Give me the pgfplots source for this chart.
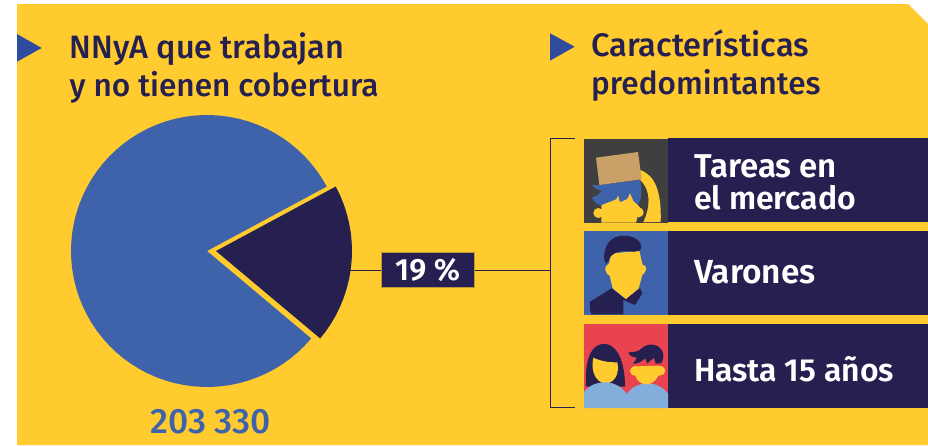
\documentclass[border=0pt]{standalone}
\usepackage{pgfplots}
\pgfplotsset{compat=1.18}
\usepackage{fontspec}
\setmainfont{Fira Sans}[BoldFont={Fira Sans Medium}]
\newfontfamily\semi{Fira Sans SemiBold}
\definecolor{bgy}{HTML}{FFCB2E}
\definecolor{navy}{HTML}{262050}
\definecolor{pieblue}{HTML}{3E63AB}
\definecolor{triblue}{HTML}{2F4B9E}
\definecolor{tile}{HTML}{3F3F3F}
\definecolor{boxc}{HTML}{C8A068}
\definecolor{redt}{HTML}{EA4350}
\definecolor{lblue}{HTML}{83AEDC}
\newcommand{\fs}[1]{\fontsize{#1}{#1}\selectfont\bfseries}
\newcommand{\fw}[1]{\fontsize{#1}{#1}\semi}
\pgfplotsset{page/.style={hide axis,scale only axis,width=928pt,height=445pt,at={(0,0)},anchor=south west,clip=false}}
\begin{document}
\begin{tikzpicture}
\begin{axis}[page,xmin=0,xmax=928,ymin=0,ymax=445,y dir=reverse]
\path (0,0) rectangle (928,445);
\fill[bgy] (17,4) -- (908,4) -- (928,24) -- (928,445) -- (17,445) -- cycle;
\fill[triblue] (17,34) -- (41.7,48) -- (17,61.7) -- cycle;
\fill[triblue] (550,33.3) -- (574.7,46.7) -- (550,60.7) -- cycle;
\node[anchor=base west,inner sep=0,text=navy] at (69.5,58.5) {\fs{32.4}NNyA que trabajan};
\node[anchor=base west,inner sep=0,text=navy] at (69.5,96) {\fs{31.6}y no tienen cobertura};
\node[anchor=base west,inner sep=0,text=navy] at (591,56) {\fs{32.6}Características};
\node[anchor=base west,inner sep=0,text=navy] at (591,94.5) {\fs{31.5}predomintantes};
\node[anchor=base west,inner sep=0,text=pieblue] at (150,433.5) {\fs{35.3}203 330};
% connectors
\draw[navy,line width=1pt] (340,270) -- (550.5,270);
\draw[navy,line width=1pt] (575,138.5) -- (550.5,138.5) -- (550.5,407.5) -- (575,407.5);
\fill[navy,draw=bgy!70!navy,line width=0.3pt] (381,252.3) rectangle (474,286.7);
\node[anchor=base west,inner sep=0,text=white] at (395,280.7) {\fw{30.8}19 \%};
% panels
\fill[navy] (668,138) rectangle (928,222);
\fill[navy] (668,231) rectangle (928,315);
\fill[navy] (668,324) rectangle (928,408);
\node[anchor=base west,inner sep=0,text=white] at (694,177) {\fw{33}Tareas en};
\node[anchor=base west,inner sep=0,text=white] at (694,209) {\fw{32}el mercado};
\node[anchor=base west,inner sep=0,text=white] at (694,283) {\fw{33.4}Varones};
\node[anchor=base west,inner sep=0,text=white] at (694,381) {\fw{31.9}Hasta 15 años};
\end{axis}
\begin{axis}[page,xmin=-207,xmax=721,ymin=-194,ymax=251]
% share of NNyA: 81 % blue, 19 % navy (angle, radius)
\addplot[draw=none,fill=pieblue,data cs=polar] coordinates {(0,0) (28.3,136) (32,136) (36,136) (40,136) (44,136) (48,136) (52,136) (56,136) (60,136) (64,136) (68,136) (72,136) (76,136) (80,136) (84,136) (88,136) (92,136) (96,136) (100,136) (104,136) (108,136) (112,136) (116,136) (120,136) (124,136) (128,136) (132,136) (136,136) (140,136) (144,136) (148,136) (152,136) (156,136) (160,136) (164,136) (168,136) (172,136) (176,136) (180,136) (184,136) (188,136) (192,136) (196,136) (200,136) (204,136) (208,136) (212,136) (216,136) (220,136) (224,136) (228,136) (232,136) (236,136) (240,136) (244,136) (248,136) (252,136) (256,136) (260,136) (264,136) (268,136) (272,136) (276,136) (280,136) (284,136) (288,136) (292,136) (296,136) (300,136) (304,136) (308,136) (312,136) (316,136) (320,136)} -- cycle;
\addplot[draw=none,fill=navy,data cs=polar,xshift=9pt] coordinates {(0,0) (-40,136) (-36,136) (-32,136) (-28,136) (-24,136) (-20,136) (-16,136) (-12,136) (-8,136) (-4,136) (0,136) (4,136) (8,136) (12,136) (16,136) (20,136) (24,136) (28.3,136)} -- cycle;
\end{axis}
\begin{axis}[page,xmin=-1620,xmax=1164,ymin=-375,ymax=960,y dir=reverse]
% icon 1
\fill[tile] (132,42) rectangle (384,293);
\fill[bgy] (300,135) .. controls (345,150) and (365,200) .. (362,291) -- (310,291) .. controls (330,250) and (335,195) .. (300,165) -- cycle;
\fill[pieblue] (158,180) -- (178,180) -- (300,165) .. controls (305,180) and (305,205) .. (302,224) -- (290,245) -- (190,245) -- (178,240) .. controls (165,235) and (160,225) .. (155,217) .. controls (170,215) and (180,205) .. (185,197) .. controls (170,195) and (160,188) .. (158,180) -- cycle;
\fill[boxc] (168,98) -- (294,81) -- (305,163) -- (178,180) -- cycle;
\fill[bgy] (175,264) circle[radius=15] (296,262) circle[radius=15];
\fill[bgy] (184,293) -- (184,241) .. controls (195,235) and (215,230) .. (230,222) -- (234,211) -- (240,232) -- (262,222) -- (270,205) -- (280,228) -- (300,247) -- (288,293) -- cycle;
% icon 2
\fill[pieblue] (132,318) rectangle (384,570);
\fill[navy] (150,530) -- (215,490) -- (255,522) -- (300,490) -- (307,505) -- (285,540) -- (250,525) -- (250,568) -- (155,568) -- (150,555) -- cycle;
\fill[bgy] (197,425) -- (207,415) -- (215,385) -- (298,378) -- (308,420) .. controls (322,418) and (322,440) .. (307,450) -- (296,490) -- (258,522) -- (218,490) -- (209,452) .. controls (195,445) and (195,432) .. (197,425) -- cycle;
\fill[navy] (198,417) .. controls (185,395) and (195,350) .. (225,337) .. controls (255,325) and (300,335) .. (304,365) .. controls (303,380) and (295,378) .. (280,380) .. controls (250,375) and (225,380) .. (210,395) .. controls (207,405) and (203,412) .. (198,417) -- cycle;
% icon 3
\fill[redt] (132,597) rectangle (384,849);
\fill[navy] (138,785) .. controls (135,720) and (145,665) .. (185,657) .. controls (225,650) and (255,700) .. (255,785) -- cycle;
\fill[bgy] (160,698) .. controls (185,710) and (210,712) .. (232,712) .. controls (240,750) and (220,775) .. (197,775) .. controls (170,775) and (150,740) .. (160,698) -- cycle;
\fill[lblue] (132,849) -- (132,800) .. controls (150,780) and (170,772) .. (196,772) .. controls (225,772) and (250,790) .. (260,807) .. controls (270,790) and (295,775) .. (322,775) .. controls (350,775) and (372,790) .. (384,805) -- (384,849) -- cycle;
\fill[bgy] (270,737) .. controls (272,725) and (285,722) .. (290,724) -- (355,722) .. controls (370,722) and (378,732) .. (374,742) .. controls (372,750) and (360,752) .. (355,752) .. controls (345,772) and (330,778) .. (320,778) .. controls (305,778) and (292,770) .. (286,752) .. controls (275,752) and (270,745) .. (270,737) -- cycle;
\fill[navy] (265,682) .. controls (280,682) and (295,680) .. (305,670) .. controls (325,652) and (355,655) .. (368,680) .. controls (372,695) and (370,708) .. (362,715) -- (347,716) -- (342,698) -- (322,715) -- (315,700) .. controls (305,710) and (290,718) .. (278,716) .. controls (285,710) and (288,705) .. (290,697) .. controls (278,698) and (268,692) .. (265,682) -- cycle;
\end{axis}
\end{tikzpicture}
\end{document}
